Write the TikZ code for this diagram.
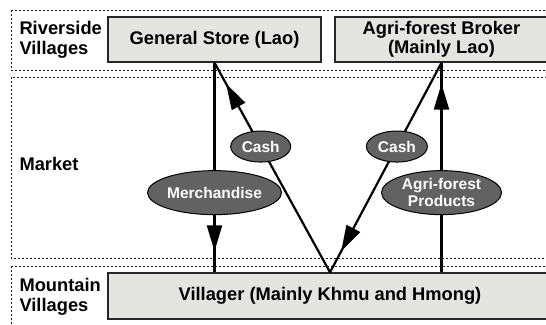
\documentclass[tikz,border=0pt]{standalone}
\usepackage{fontspec}
\setmainfont{Liberation Sans}
\usetikzlibrary{arrows.meta,positioning,shapes.geometric,calc,decorations.markings}
\definecolor{boxgray}{HTML}{E4E4E0}
\definecolor{ovalgray}{HTML}{626262}

\begin{document}
\begin{tikzpicture}[x=1pt, y=-1pt,
  zone/.style={draw=black!90, line width=1pt, dash pattern=on 2.2pt off 1.8pt},
  actor/.style={draw=black!85, line width=1.4pt, fill=boxgray, minimum height=45pt, align=center, inner sep=0pt, font=\fontsize{18.3}{19.5}\selectfont\bfseries},
  good/.style={ellipse, draw=black, line width=1pt, fill=ovalgray, text=white, align=center, inner sep=0pt, font=\fontsize{15.5}{17}\selectfont\bfseries},
  side/.style={anchor=west, align=left, font=\fontsize{18.3}{19.5}\selectfont\bfseries},
  flow/.style={line width=2.2pt},
  midtip/.style={postaction={decorate}, decoration={markings, mark=at position #1 with {\arrow{Triangle[length=26pt,width=15pt]}}}}]
\useasboundingbox (0,0) rectangle (546,324);
\clip (0,0) rectangle (546,324);

% zonas
\draw[zone] (11,10) rectangle (560,70);
\draw[zone] (11,77) rectangle (560,258);
\draw[zone] (11,266) rectangle (560,340);

\node[side] (lriver) at (16,40) {Riverside\\Villages};
\node[side] (lmarket) at (16,164) {Market};
\node[side] (lmount) at (16,297) {Mountain\\Villages};

% actores
\node[actor, minimum width=213pt] (store)  at (214.5,39.5) {General Store (Lao)};
\node[actor, minimum width=213pt] (broker) at (441.5,39.5) {Agri-forest Broker\\(Mainly Lao)};
\node[actor, minimum width=444pt, minimum height=46pt] (vill) at (330,296) {Villager (Mainly Khmu and Hmong)};

% flujos
\draw[flow, midtip=0.9] (store.south) -- node[good, pos=0.62, minimum width=106pt, minimum height=44pt] (merch) {Merchandise} (vill.north -| store.south);
\draw[flow, midtip=0.9] (vill.north) -- node[good, pos=0.6, minimum width=60pt, minimum height=31pt] (cashl) {Cash} (store.south);
\draw[flow, midtip=0.9] (broker.south) -- node[good, pos=0.4, minimum width=61pt, minimum height=31pt] (cashr) {Cash} (vill.north);
\draw[flow, midtip=0.9] (vill.north -| broker.south) -- node[good, pos=0.38, minimum width=120pt, minimum height=44pt] (prod) {Agri-forest\\Products} (broker.south);
\end{tikzpicture}
\end{document}
